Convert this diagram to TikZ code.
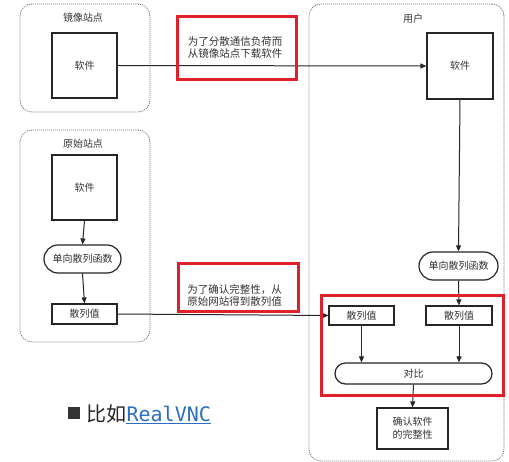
\documentclass[tikz,border=0pt]{standalone}
\usepackage{fontspec}
\setmainfont{Noto Sans CJK SC}
\newfontfamily\linkfont{DejaVu Sans Mono}
\usetikzlibrary{shapes.misc,arrows.meta}
\definecolor{txt}{HTML}{333333}
\definecolor{redline}{HTML}{E0202A}
\definecolor{linkblue}{HTML}{2A6EC0}
\definecolor{grpline}{HTML}{707070}
\definecolor{boxline}{HTML}{262626}
\begin{document}
\begin{tikzpicture}[x=1pt,y=-1pt,
  box/.style={draw=boxline,line width=1.2pt,inner sep=0pt,font=\fontsize{10}{12.5}\selectfont,text=txt,align=center},
  pill/.style={box,rounded rectangle},
  grp/.style={draw=grpline,dash pattern=on 1pt off 1pt,line width=0.8pt,rounded corners=12pt,inner sep=0pt},
  grplabel/.style={font=\fontsize{10}{12}\selectfont,text=txt},
  redbox/.style={draw=redline,line width=3pt,inner sep=0pt},
  note/.style={font=\fontsize{10.5}{12.5}\selectfont,text=txt,align=left},
  conn/.style={line width=1pt,draw=boxline,-{Triangle[length=6pt,width=5pt]}}
]
\useasboundingbox[fill=white] (0,0) rectangle (509,462);

% groups
\node[grp,minimum width=130pt,minimum height=108pt] (gmirror) at (85,58) {};
\node[grp,minimum width=130pt,minimum height=212pt] (gorig) at (85,236) {};
\node[grp,minimum width=195pt,minimum height=457pt] (guser) at (406.5,232.5) {};
\node[grplabel] (lmirror) at (83,18) {镜像站点};
\node[grplabel] (lorig) at (83,144) {原始站点};
\node[grplabel] (luser) at (413,19) {用户};

% boxes
\node[box,minimum width=65pt,minimum height=65pt] (msw) at (84.5,65.5) {软件};
\node[box,minimum width=66pt,minimum height=66pt] (usw) at (460,66) {软件};
\node[box,minimum width=65pt,minimum height=65pt] (osw) at (84.5,187.5) {软件};
\node[pill,minimum width=77pt,minimum height=28pt] (ohash) at (82.5,259) {单向散列函数};
\node[box,minimum width=65pt,minimum height=20pt] (oval) at (84.5,314) {散列值};
\node[pill,minimum width=79pt,minimum height=28pt] (uhash) at (458.5,266) {单向散列函数};
\node[box,minimum width=65pt,minimum height=19pt] (uval1) at (361.5,315.5) {散列值};
\node[box,minimum width=66pt,minimum height=19pt] (uval2) at (459,315.5) {散列值};
\node[pill,minimum width=157pt,minimum height=21pt] (cmp) at (413.5,373.5) {对比};
\node[box,minimum width=71pt,minimum height=41pt] (conf) at (412.5,428.5) {确认软件\\[0.5pt]的完整性};

% connectors
\draw[conn] (msw.east) -- (usw.west);
\draw[conn] (usw.south) -- (uhash.north);
\draw[conn] (uhash.south) -- (uval2.north);
\draw[conn] (osw.south) -- (ohash.north);
\draw[conn] (ohash.south) -- (oval.north);
\draw[conn] (oval.east) -- (uval1.west);
\draw[conn] (uval1.south) -- (uval1.south |- cmp.north);
\draw[conn] (uval2.south) -- (uval2.south |- cmp.north);
\draw[conn] (cmp.south) -- (conf.north);

% notes
\node[note] (note1) at (235,47.5) {为了分散通信负荷而\\从镜像站点下载软件};
\node[note] (note2) at (234.5,295.5) {为了确认完整性，从\\原始网站得到散列值};

% red highlight boxes
\node[redbox,minimum width=119pt,minimum height=63pt] (red1) at (236.5,48.5) {};
\node[redbox,minimum width=120pt,minimum height=48pt] (red2) at (238,288) {};
\node[redbox,minimum width=182pt,minimum height=100pt] (red3) at (412,346) {};

% bottom line
\fill[txt] (68,407) rectangle (80,419);
\node[anchor=base west,inner sep=0pt,font=\fontsize{20}{24}\selectfont,text=black!85] (example) at (86,421) {比如};
\node[anchor=base west,inner sep=0pt,font=\linkfont\fontsize{20}{24}\selectfont,text=linkblue] (link) at (example.base east) {RealVNC};
\draw[linkblue,line width=1pt] ([yshift=-2pt]link.base west) -- ([yshift=-2pt]link.base east);
\end{tikzpicture}
\end{document}
